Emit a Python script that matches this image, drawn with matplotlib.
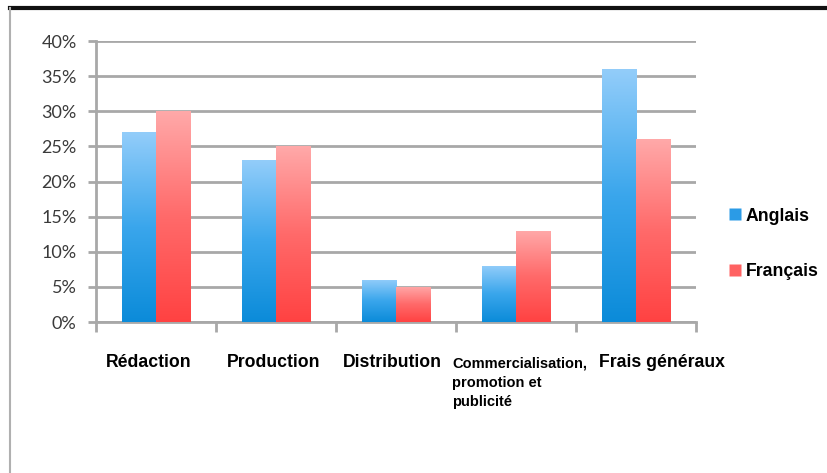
import numpy as np
import matplotlib.pyplot as plt
from matplotlib.colors import LinearSegmentedColormap
from matplotlib.lines import Line2D

categories = ['Rédaction', 'Production', 'Distribution',
              'Commercialisation,\npromotion et\npublicité', 'Frais généraux']
anglais = [27, 23, 6, 8, 36]
francais = [30, 25, 5, 13, 26]
yticks = [0, 5, 10, 15, 20, 25, 30, 35, 40]

blue_cmap = LinearSegmentedColormap.from_list('bl', ['#0b8bd9', '#3aa6ec', '#93cdfa'])
red_cmap = LinearSegmentedColormap.from_list('rd', ['#ff4242', '#ff6a6a', '#ffa9a9'])

fig = plt.figure(figsize=(8.28, 4.73), dpi=100)
ax = fig.add_axes([96 / 828, 1 - 322 / 473, 600 / 828, 281 / 473])

x = np.arange(len(categories))
w = 0.285


def gradient_bars(xpos, values, cmap):
    bars = ax.bar(xpos, values, w, color='none', edgecolor='none', zorder=3)
    grad = np.linspace(0, 1, 256).reshape(-1, 1)
    for b in bars:
        x0, y0 = b.get_x(), b.get_y()
        im = ax.imshow(grad, cmap=cmap, origin='lower', aspect='auto',
                       extent=[x0, x0 + b.get_width(), y0, y0 + b.get_height()],
                       zorder=3, interpolation='bilinear')
        im.set_clip_path(b)
    return bars


gradient_bars(x - w / 2, anglais, blue_cmap)
gradient_bars(x + w / 2, francais, red_cmap)

ax.set_xlim(-0.5, len(categories) - 0.5)
ax.set_ylim(0, 40)
ax.set_yticks(yticks)
ax.set_yticklabels([f'{v}%' for v in yticks], family='Lato', fontsize=13, color='#3a3a3a')
ax.yaxis.grid(True, color='#a8a8a8', linewidth=2)
ax.set_axisbelow(True)
ax.tick_params(axis='y', length=6, width=2, color='#a8a8a8', pad=8)
ax.set_xticks(np.arange(len(categories) + 1) - 0.5)
ax.set_xticklabels([])
ax.tick_params(axis='x', length=7, width=2, color='#a8a8a8')
for s in ['top', 'right']:
    ax.spines[s].set_visible(False)
for s in ['left', 'bottom']:
    ax.spines[s].set_color('#a8a8a8')
    ax.spines[s].set_linewidth(2)

# category labels placed under each group
label_dx = [-0.06, -0.02, -0.03, 0, 0.22]
for i, lab in enumerate(categories):
    if '\n' in lab:
        ax.text(i - 0.53, -4.9, lab, ha='left', va='top', fontsize=10.5,
                fontweight='bold', family='Liberation Sans', linespacing=1.5)
    else:
        ax.text(i + label_dx[i], -5.8, lab, ha='center', va='center', fontsize=12.7,
                fontweight='bold', family='Liberation Sans')

handles = [Line2D([], [], marker='s', linestyle='none', markersize=9,
                  markerfacecolor='#2b9be6', markeredgecolor='none'),
           Line2D([], [], marker='s', linestyle='none', markersize=9,
                  markerfacecolor='#ff6262', markeredgecolor='none')]
fig.legend(handles, ['Anglais', 'Français'], loc='center left',
           bbox_to_anchor=(726 / 828, 1 - 244 / 473), frameon=False, borderpad=0,
           borderaxespad=0,
           prop={'family': 'Liberation Sans', 'weight': 'bold', 'size': 12.7},
           labelspacing=2.2, handletextpad=0.1, handlelength=1.0)

# outer frame
fig.add_artist(Line2D([10 / 828, 1], [1 - 8 / 473, 1 - 8 / 473],
                      transform=fig.transFigure, color='#111111', linewidth=3))
fig.add_artist(Line2D([10 / 828, 10 / 828], [0, 1 - 8 / 473],
                      transform=fig.transFigure, color='#b0b0b0', linewidth=1.5))

fig.savefig('out.png', dpi=100)
